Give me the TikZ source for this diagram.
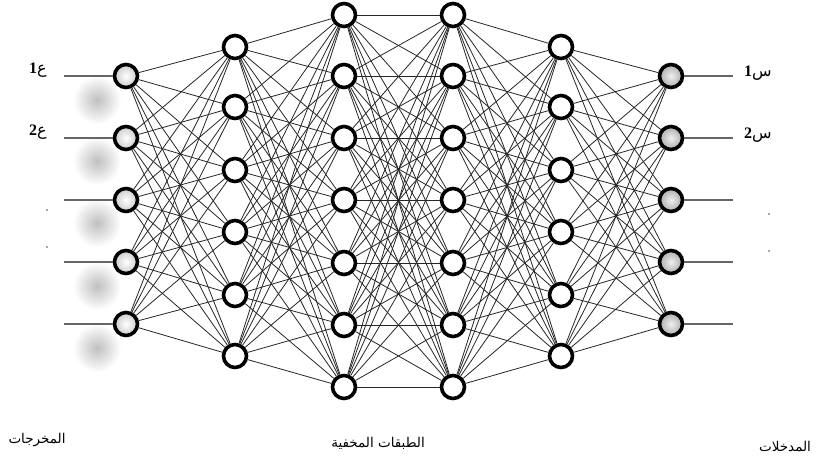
\documentclass[tikz,border=0pt]{standalone}
\usepackage{fontspec}
\setmainfont{Liberation Serif}
\newfontfamily\arabicfont[Script=Arabic]{DejaVu Sans}
\TeXXeTstate=1
\tikzset{
  hid/.style={circle, draw=black, line width=3.6pt, fill=white, minimum size=23pt, inner sep=0pt},
  outl/.style={circle, draw=black, line width=3.6pt, minimum size=23pt, inner sep=0pt, inner color=white, outer color=gray!40},
  outr/.style={circle, draw=black, line width=3.6pt, minimum size=23pt, inner sep=0pt, inner color=gray!12, outer color=gray!65},
  conn/.style={line width=0.8pt, black!85},
  io/.style={line width=1.5pt, black!60},
  lab/.style={font=\fontsize{16}{18}\selectfont, inner sep=0pt},
  blab/.style={font=\fontsize{13.5}{15}\selectfont\arabicfont, inner sep=0pt},
  dotmark/.style={circle, fill=black!70, inner sep=0pt, minimum size=1.8pt}
}
\begin{document}
\begin{tikzpicture}[x=1pt,y=-1pt]
\useasboundingbox (0,0) rectangle (818,463);
% shadows
\foreach \y [count=\i] in {100,161,223,286,348} {
  \shade[inner color=gray!50, outer color=white] (97,\y) circle (24);
}
% layers
\foreach \y [count=\i] in {76,138,200,262,324} {
  \node[outl] (a\i) at (126,\y) {};
  \node[outr] (f\i) at (671,\y) {};
  \coordinate (ai\i) at (64,\y);
  \coordinate (fo\i) at (733,\y);
}
\foreach \y [count=\i] in {47,107,170,232,295,356} {
  \node[hid] (b\i) at (235,\y) {};
  \node[hid] (e\i) at (561,\y) {};
}
\foreach \y [count=\i] in {15,76,138,200,263,325,387} {
  \node[hid] (c\i) at (344,\y) {};
  \node[hid] (d\i) at (453,\y) {};
}
% connections
\foreach \i in {1,...,5} \foreach \j in {1,...,6} {
  \draw[conn] (a\i) -- (b\j);
  \draw[conn] (e\j) -- (f\i);
}
\foreach \i in {1,...,6} \foreach \j in {1,...,7} {
  \draw[conn] (b\i) -- (c\j);
  \draw[conn] (d\j) -- (e\i);
}
\foreach \i in {1,...,7} \foreach \j in {1,...,7} {
  \draw[conn] (c\i) -- (d\j);
}
% io lines
\foreach \i in {1,...,5} {
  \draw[io] (ai\i) -- (a\i);
  \draw[io] (f\i) -- (fo\i);
}
% labels
\node[lab] (l1) at (38,70) {\beginR{\arabicfont ع}\textbf{1}\endR};
\node[lab] (l2) at (38,132) {\beginR{\arabicfont ع}\textbf{2}\endR};
\node[lab] (r1) at (758,73) {\beginR{\arabicfont س}\textbf{1}\endR};
\node[lab] (r2) at (758,135) {\beginR{\arabicfont س}\textbf{2}\endR};
\node[dotmark] (d1) at (47,210) {};
\node[dotmark] (d2) at (47,247) {};
\node[dotmark] (d3) at (769,214) {};
\node[dotmark] (d4) at (769,251) {};
\node[blab] (t1) at (37,440) {\beginR المخرجات\endR};
\node[blab] (t2) at (378,443) {\beginR الطبقات المخفية\endR};
\node[blab] (t3) at (785,447) {\beginR المدخلات\endR};
\end{tikzpicture}
\end{document}
